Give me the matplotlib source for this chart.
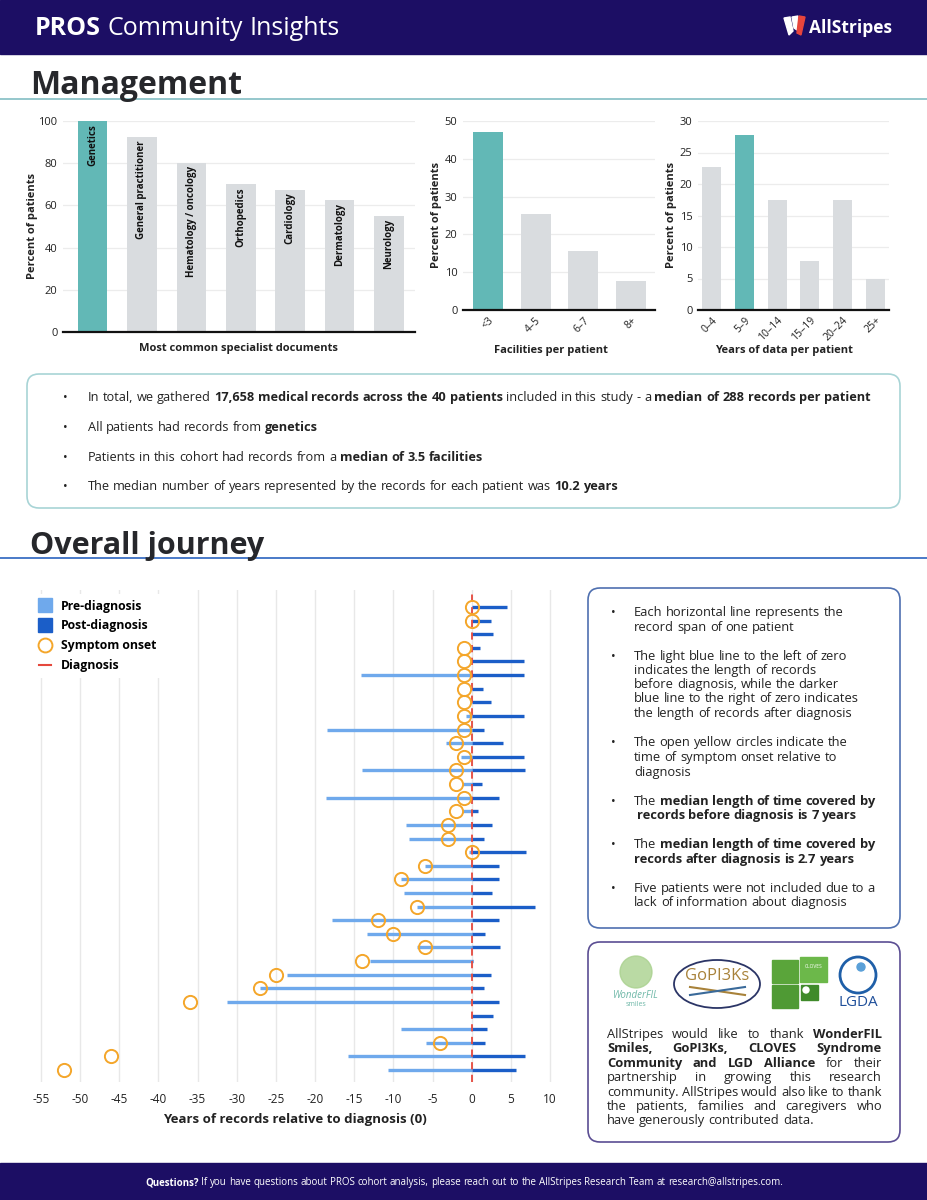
import math
import numpy as np
import matplotlib
matplotlib.use('Agg')
import matplotlib.pyplot as plt
from matplotlib.patches import FancyBboxPatch, Rectangle, Ellipse, Circle, Polygon
from matplotlib.lines import Line2D

plt.rcParams['font.family'] = ['Open Sans', 'DejaVu Sans']
plt.rcParams['axes.unicode_minus'] = False

W, H = 928, 1200
NAVY = '#1c0e64'
TEAL = '#62b8b6'
GREY = '#d9dcdf'
INK = '#222222'
PRE = '#6fa9ec'
POST = '#1b5ec8'
ONSET = '#f4a62a'
DIAG = '#e5483d'

# ---- management panels
specialties = ['Genetics', 'General practitioner', 'Hematology / oncology',
               'Orthopedics', 'Cardiology', 'Dermatology', 'Neurology']
specialty_pct = [100, 92.5, 80, 70, 67.5, 62.5, 55]
facility_bins = ['<3', '4–5', '6–7', '8+']
facility_pct = [47.2, 25.5, 15.5, 7.7]
year_bins = ['0–4', '5–9', '10–14', '15–19', '20–24', '25+']
year_pct = [22.7, 27.7, 17.5, 7.8, 17.5, 5.0]

# ---- overall journey, one patient per row (top to bottom), years vs diagnosis
pre_start = [0, 0, 0, 0, 0, -14.1, 0, 0, -0.8, -18.5, -3.3, -1.4, -14.0, -1.1,
             -18.6, -1.2, -8.4, -8.0, -0.4, -6.0, -9.0, -8.7, -7.0, -17.8, -13.4,
             -7.0, -13.0, -23.6, -27.0, -31.2, 0, -9.0, -5.8, -15.8, -10.7]
post_end = [4.5, 2.5, 2.7, 1.1, 6.6, 6.6, 1.4, 2.4, 6.7, 1.6, 4.0, 6.7, 6.8, 1.3,
            3.5, 0.8, 2.6, 1.5, 6.9, 3.5, 3.5, 2.6, 8.1, 3.5, 1.7, 3.6, 0.2, 2.5,
            1.6, 3.5, 2.7, 1.9, 1.7, 6.8, 5.6]
onset = [0, 0, np.nan, -1, -1, -1, -1, -1, -1, -1, -2, -1, -2, -2, -1, -2, -3, -3,
         0, -6, -9, np.nan, -7, -12, -10, -6, -14, -25, -27, -36, np.nan, np.nan,
         -4, -46, -52]

fig = plt.figure(figsize=(W / 100, H / 100), dpi=100)
bg = fig.add_axes([0, 0, 1, 1])
bg.set_xlim(0, W)
bg.set_ylim(H, 0)
bg.axis('off')
R = fig.canvas.get_renderer()


def px_axes(l, t, w, h):
    ax = fig.add_axes([l / W, 1 - (t + h) / H, w / W, h / H])
    ax.set_facecolor('none')
    return ax


def text_w(s, size, bold=False):
    t = bg.text(0, 0, s, fontsize=size, fontweight='bold' if bold else 'normal')
    w = t.get_window_extent(R).width
    t.remove()
    return w


def words_line(x, y, runs, size, color=INK, width=None, align='left'):
    # runs: list of (text, bold); y is the baseline in pixels
    # width given -> justified, otherwise normal word spacing
    words = [(w, b) for txt, b in runs for w in txt.split()]
    base = round(y)
    objs = []
    for w, b in words:
        t = bg.text(0, base, w, fontsize=size, color=color, va='baseline',
                    fontweight='bold' if b else 'normal')
        # agg rounds baseline + descent, so nudge each word to keep one baseline
        d = R.get_text_width_height_descent(w, t.get_fontproperties(), ismath=False)[2]
        t.set_y(base + math.ceil(d) - d)
        objs.append(t)
    ws = [t.get_window_extent(R).width for t in objs]
    gap = text_w('a a', size) - text_w('aa', size)
    if width is not None and len(objs) > 1:
        gap = (width - sum(ws)) / (len(objs) - 1)
    total = sum(ws) + gap * (len(objs) - 1)
    if align == 'center':
        x = x - total / 2
    for t, w in zip(objs, ws):
        t.set_x(x)
        x += w + gap


def rbox(x, y, w, h, ec):
    bg.add_patch(FancyBboxPatch((x, y), w, h, boxstyle='round,pad=0,rounding_size=12',
                                fc='white', ec=ec, lw=1.2))


# ---- header / footer
bg.add_patch(Rectangle((0, 0), W, 54, color=NAVY))
words_line(35, 35, [('PROS', True), ('Community Insights', False)], 18, 'white')
bg.add_patch(Polygon([(784, 18), (790, 17), (793, 31), (789, 35)], color='white'))
bg.add_patch(Polygon([(792, 17), (798, 16), (797, 30), (794, 28)], color='white'))
bg.add_patch(Polygon([(799, 16), (805, 17), (801, 35), (797, 33)], color='#e8453c'))
bg.text(809, 33, 'AllStripes', fontsize=12.5, fontweight='bold', color='white', va='baseline')

bg.add_patch(Rectangle((0, 1163), W, 37, color=NAVY))
words_line(464, 1185, [('Questions?', True),
                       ('If you have questions about PROS cohort analysis, please reach out to the '
                        'AllStripes Research Team at research@allstripes.com.', False)],
           7.0, 'white', align='center')

# ---- management
bg.text(30, 94, 'Management', fontsize=23, fontweight='bold', color='#26272b', va='baseline')
bg.plot([0, W], [99, 99], color='#8cc3c8', lw=1.3)


def bar_panel(l, t, w, h, vals, hi, ymax, step, xlim, bw):
    ax = px_axes(l, t, w, h)
    x = np.arange(len(vals))
    cols = [TEAL if i == hi else GREY for i in range(len(vals))]
    ax.bar(x, vals, width=bw, color=cols, zorder=2)
    ax.set_xlim(*xlim)
    ax.set_ylim(0, ymax)
    ax.set_yticks(np.arange(0, ymax + 1, step))
    for s in ['top', 'right', 'left']:
        ax.spines[s].set_visible(False)
    ax.spines['bottom'].set_linewidth(1.6)
    ax.spines['bottom'].set_color('#111111')
    ax.spines['bottom'].set_zorder(3)
    ax.yaxis.grid(True, color='#ececec', lw=0.9)
    ax.set_axisbelow(True)
    ax.tick_params(length=0, labelsize=8, colors=INK)
    ax.tick_params(axis='y', pad=4)
    return ax


ax1 = bar_panel(63, 121, 352, 211, specialty_pct, 0, 100, 20, (-0.6, 6.53), 0.6)
ax1.set_xticks([])
for i, (lab, v) in enumerate(zip(specialties, specialty_pct)):
    ax1.text(i, v - 1.5, lab, rotation=90, ha='center', va='top', fontsize=7,
             fontweight='bold', color='#111111', zorder=4)

ax2 = bar_panel(463, 121, 192, 189, facility_pct, 0, 50, 10, (-0.52, 3.5), 0.63)
ax2.set_xticks(range(len(facility_bins)))
ax2.set_xticklabels(facility_bins, rotation=45, ha='right', rotation_mode='anchor', fontsize=7.5)

ax3 = bar_panel(698, 121, 191, 189, year_pct, 1, 30, 5, (-0.41, 5.41), 0.58)
ax3.set_xticks(range(len(year_bins)))
ax3.set_xticklabels(year_bins, rotation=45, ha='right', rotation_mode='anchor', fontsize=7.5)

for x, y in [(33, 226), (437, 215), (672, 215)]:
    bg.text(x, y, 'Percent of patients', rotation=90, ha='center', va='center',
            fontsize=8, fontweight='bold', color=INK)
for x, y, s in [(238, 349, 'Most common specialist documents'),
                (551, 350, 'Facilities per patient'),
                (784, 350, 'Years of data per patient')]:
    bg.text(x, y, s, ha='center', va='center', fontsize=8, fontweight='bold', color=INK)

# summary box
rbox(27, 374, 873, 134, '#a8d4d6')
summary = [
    [('In total, we gathered', False), ('17,658 medical records across the 40 patients', True),
     ('included in this study - a', False), ('median of 288 records per patient', True)],
    [('All patients had records from', False), ('genetics', True)],
    [('Patients in this cohort had records from a', False), ('median of 3.5 facilities', True)],
    [('The median number of years represented by the records for each patient was', False),
     ('10.2 years', True)],
]
for yc, runs in zip([397, 427, 457, 486], summary):
    bg.text(63, yc + 4, '•', fontsize=9, color=INK, va='baseline')
    words_line(88, yc + 4, runs, 9.2)

# ---- overall journey
bg.text(30, 554, 'Overall journey', fontsize=22, fontweight='bold', color='#26272b', va='baseline')
bg.plot([0, W], [558, 558], color='#3b6fc4', lw=1.3)

ax = px_axes(33, 590, 525, 492)
rows = np.arange(len(post_end))
pre = np.array(pre_start)
ax.hlines(rows, pre, 0, color=PRE, lw=2.4, zorder=2)
ax.hlines(rows, 0, post_end, color=POST, lw=2.4, zorder=2)
ax.axvline(0, color=DIAG, ls=(0, (4, 3)), lw=1.3, zorder=3)
ax.plot(onset, rows, 'o', mfc='none', mec=ONSET, ms=9.5, mew=1.4, zorder=4)
ax.set_xlim(-56, 11)
ax.set_ylim(34.88, -1.25)
ax.set_xticks(np.arange(-55, 11, 5))
ax.set_yticks([])
for s in ax.spines.values():
    s.set_visible(False)
ax.xaxis.grid(True, color='#e8e8e8', lw=1)
ax.set_axisbelow(True)
ax.tick_params(length=0, labelsize=8.5, colors=INK, pad=8)

handles = [Line2D([], [], ls='none', marker='s', ms=10, color=PRE),
           Line2D([], [], ls='none', marker='s', ms=10, color=POST),
           Line2D([], [], ls='none', marker='o', ms=10, mfc='none', mec=ONSET, mew=1.4),
           Line2D([], [], color=DIAG, lw=1.5)]
leg = ax.legend(handles, ['Pre-diagnosis', 'Post-diagnosis', 'Symptom onset', 'Diagnosis'],
                loc='upper left', bbox_to_anchor=(-0.012, 1.005), prop={'weight': 'bold', 'size': 8.8},
                handlelength=1.0, handletextpad=0.8, labelspacing=0.55, borderpad=0.5,
                frameon=True, facecolor='white', edgecolor='none', framealpha=1, fancybox=False)
leg.set_zorder(6)
bg.text(295, 1120, 'Years of records relative to diagnosis (0)', ha='center', va='center',
        fontsize=9.5, fontweight='bold', color=INK)

# explanation box
rbox(588, 588, 312, 340, '#4f70b0')
notes = [
    [[('Each horizontal line represents the', False)], [('record span of one patient', False)]],
    [[('The light blue line to the left of zero', False)], [('indicates the length of records', False)],
     [('before diagnosis, while the darker', False)], [('blue line to the right of zero indicates', False)],
     [('the length of records after diagnosis', False)]],
    [[('The open yellow circles indicate the', False)], [('time of symptom onset relative to', False)],
     [('diagnosis', False)]],
    [[('The', False), ('median length of time covered by', True)],
     [('records before diagnosis is 7 years', True)]],
    [[('The', False), ('median length of time covered by', True)],
     [('records after diagnosis is 2.7 years', True)]],
    [[('Five patients were not included due to a', False)],
     [('lack of information about diagnosis', False)]],
]
note_y = [[612, 627], [656, 670, 684, 698, 713], [742, 757, 772], [801, 815], [844, 859], [888, 902]]
for bi, (block, ys) in enumerate(zip(notes, note_y)):
    bg.text(611, ys[0] + 4, '•', fontsize=9, color=INK, va='baseline')
    for k, (runs, yc) in enumerate(zip(block, ys)):
        indent = 3 if (bi == 3 and k == 1) else 0
        words_line(634 + indent, yc + 4, runs, 9.3)

# partner box
rbox(588, 942, 312, 200, '#5b4e93')
bg.add_patch(Circle((636, 972), 16, color='#a9d18e', alpha=0.8))
bg.text(636, 996, 'WonderFIL', ha='center', va='center', fontsize=7, style='italic', color='#6fb8a8')
bg.text(636, 1005, 'smiles', ha='center', va='center', fontsize=5, color='#6fb8a8')
bg.add_patch(Ellipse((717, 984), 86, 48, fc='white', ec='#2b3566', lw=1.3))
bg.text(717, 976, 'GoPI3Ks', ha='center', va='center', fontsize=12, color='#a8823a')
bg.plot([690, 745], [987, 995], color='#a8823a', lw=1.5)
bg.plot([690, 745], [995, 987], color='#3a6a9a', lw=1.5)
bg.add_patch(Rectangle((772, 960), 26, 23, color='#5aa53a'))
bg.add_patch(Rectangle((800, 957), 27, 25, color='#6cb84a'))
bg.text(813.5, 966, 'CLOVES', ha='center', va='center', fontsize=3.5, color='white')
bg.add_patch(Rectangle((772, 985), 26, 23, color='#4f9a34'))
bg.add_patch(Rectangle((801, 985), 17, 15, color='#3f8a2a'))
bg.add_patch(Circle((806, 990), 3, color='white'))
bg.add_patch(Circle((858, 975), 18, fc='white', ec='#1f5fa8', lw=2))
bg.add_patch(Circle((861, 967), 4, color='#5aa0d8'))
bg.text(858, 1003, 'LGDA', ha='center', va='center', fontsize=11, color='#1f4f9a')

thanks = [
    [('AllStripes would like to thank', False), ('WonderFIL', True)],
    [('Smiles, GoPI3Ks, CLOVES Syndrome', True)],
    [('Community and LGD Alliance', True), ('for their', False)],
    [('partnership in growing this research', False)],
    [('community. AllStripes would also like to thank', False)],
    [('the patients, families and caregivers who', False)],
    [('have generously contributed data.', False)],
]
for k, (runs, yc) in enumerate(zip(thanks, [1034, 1048, 1063, 1077, 1092, 1106, 1120])):
    words_line(607, yc + 4, runs, 9.3, width=None if k == len(thanks) - 1 else 275)

fig.savefig('out.png', dpi=100)
